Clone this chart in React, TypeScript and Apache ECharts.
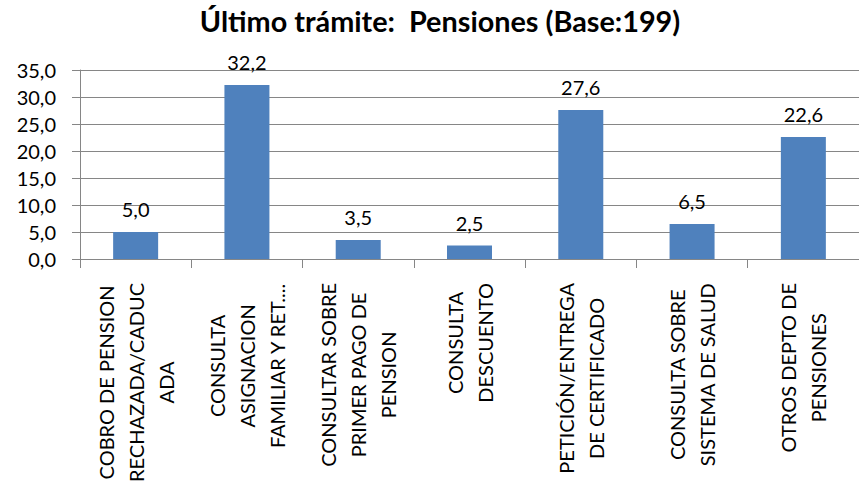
import React, { useEffect, useRef } from "react";
import * as echarts from "echarts";

const titleText = "Último trámite:  Pensiones (Base:199)";
const categories = [
  "COBRO DE PENSION\nRECHAZADA/CADUC\nADA",
  "CONSULTA\nASIGNACION\nFAMILIAR Y RET....",
  "CONSULTAR SOBRE\nPRIMER PAGO DE\nPENSION",
  "CONSULTA\nDESCUENTO",
  "PETICIÓN/ENTREGA\nDE CERTIFICADO",
  "CONSULTA SOBRE\nSISTEMA DE SALUD",
  "OTROS DEPTO DE\nPENSIONES",
];
const values = [5.0, 32.2, 3.5, 2.5, 27.6, 6.5, 22.6];
const yMin = 0;
const yMax = 35;
const yStep = 5;

const FONT = "Lato, 'Open Sans', sans-serif";
const fmt = (v: number) => v.toFixed(1).replace(".", ",");

export default function App() {
  const ref = useRef<HTMLDivElement>(null);
  useEffect(() => {
    if (!ref.current) return;
    const chart = echarts.init(ref.current, null, { renderer: "svg" });
    chart.setOption({
      animation: false,
      backgroundColor: "#ffffff",
      title: {
        text: titleText,
        left: 440,
        top: 6,
        textAlign: "center",
        padding: 0,
        textStyle: { fontFamily: FONT, fontSize: 28.8, fontWeight: "bold", color: "#000" },
      },
      grid: { left: 80, top: 70, width: 792, height: 189, containLabel: false },
      xAxis: {
        type: "category",
        data: categories,
        boundaryGap: true,
        axisLine: { show: true, lineStyle: { color: "#868686", width: 1 } },
        axisTick: { show: true, length: 9, lineStyle: { color: "#868686" } },
        axisLabel: {
          interval: 0,
          rotate: 90,
          margin: 24,
          color: "#000",
          fontFamily: FONT,
          fontSize: 20,
          lineHeight: 30,
          formatter: (v: string) => v.split("\n").map((l) => `{c|${l}}`).join("\n"),
          rich: {
            c: { align: "center", fontFamily: FONT, fontSize: 20, lineHeight: 30, color: "#000" },
          },
        },
      },
      yAxis: {
        type: "value",
        min: yMin,
        max: yMax,
        interval: yStep,
        axisLine: { show: true, lineStyle: { color: "#868686", width: 1 } },
        axisTick: { show: true, length: 8, lineStyle: { color: "#868686" } },
        splitLine: { show: true, lineStyle: { color: "#868686", width: 1 } },
        axisLabel: {
          margin: 24,
          color: "#000",
          fontFamily: FONT,
          fontSize: 20,
          formatter: (v: number) => fmt(v),
        },
      },
      series: [
        {
          type: "bar",
          data: values,
          barWidth: 45,
          itemStyle: { color: "#4F81BD" },
          label: {
            show: true,
            position: "top",
            distance: 13,
            color: "#000",
            fontFamily: FONT,
            fontSize: 20,
            formatter: (p: any) => fmt(p.value),
          },
        },
      ],
    });
    return () => chart.dispose();
  }, []);
  return (
    <div
      ref={ref}
      style={{ position: "fixed", left: 0, top: 0, width: 859, height: 486 }}
    />
  );
}
